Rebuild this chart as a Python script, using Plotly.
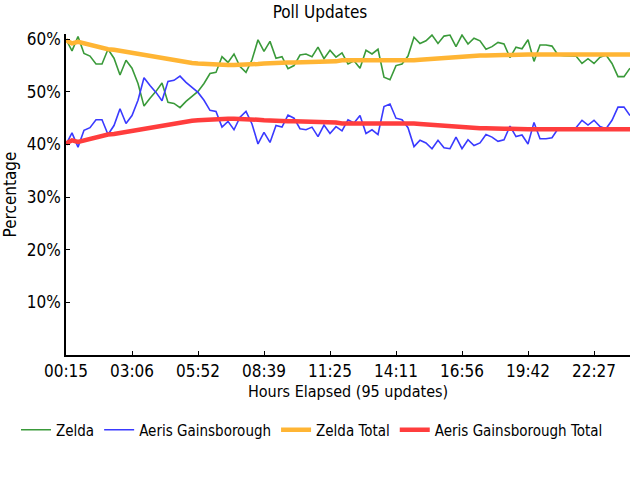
import plotly.graph_objects as go

tick_labels = ["00:15", "03:06", "05:52", "08:39", "11:25", "14:11", "16:56", "19:42", "22:27"]
tick_index = [0, 11, 22, 33, 44, 55, 66, 77, 88]
y_ticks = [10, 20, 30, 40, 50, 60]
y_tick_labels = ["10%", "20%", "30%", "40%", "50%", "60%"]
n_updates = 95
x_idx = list(range(n_updates))

zelda = [60.0, 57.8, 60.5, 57.3, 56.8, 55.3, 55.3, 58.1, 56.4, 53.2,
         56.0, 54.5, 51.6, 47.3, 48.8, 50.1, 51.7, 48.0, 47.8, 47.0,
         48.2, 49.1, 50.1, 51.6, 53.5, 53.7, 56.7, 55.6, 57.2, 54.8,
         53.7, 56.1, 59.9, 57.7, 59.6, 56.4, 56.7, 54.4, 55.0, 57.0,
         57.2, 56.7, 58.5, 56.3, 57.9, 56.6, 57.4, 55.3, 55.9, 54.5,
         57.9, 57.2, 58.1, 52.8, 52.3, 55.0, 55.3, 56.8, 60.4, 59.2,
         59.7, 60.8, 59.2, 60.6, 60.8, 58.6, 60.8, 59.1, 60.2, 59.7,
         58.1, 58.6, 59.4, 59.1, 56.5, 58.5, 58.2, 59.9, 55.8, 58.9,
         58.9, 58.7, 57.0, 56.9, 56.9, 56.8, 55.4, 56.3, 55.4, 56.6,
         57.0, 55.4, 52.9, 52.9, 54.5]

aeris = [40.0, 42.2, 39.5, 42.7, 43.2, 44.7, 44.7, 41.9, 43.6, 46.8,
         44.0, 45.5, 48.4, 52.7, 51.2, 49.9, 48.3, 52.0, 52.2, 53.0,
         51.8, 50.9, 49.9, 48.4, 46.5, 46.3, 43.3, 44.4, 42.8, 45.2,
         46.3, 43.9, 40.1, 42.3, 40.4, 43.6, 43.3, 45.6, 45.0, 43.0,
         42.8, 43.3, 41.5, 43.7, 42.1, 43.4, 42.6, 44.7, 44.1, 45.5,
         42.1, 42.8, 41.9, 47.2, 47.7, 45.0, 44.7, 43.2, 39.6, 40.8,
         40.3, 39.2, 40.8, 39.4, 39.2, 41.4, 39.2, 40.9, 39.8, 40.3,
         41.9, 41.4, 40.6, 40.9, 43.5, 41.5, 41.8, 40.1, 44.2, 41.1,
         41.1, 41.3, 43.0, 43.1, 43.1, 43.2, 44.6, 43.7, 44.6, 43.4,
         43.0, 44.6, 47.1, 47.1, 45.5]

zelda_total = [59.8, 59.2, 59.5, 59.2, 59.0, 58.6, 58.3, 58.1, 58.0, 57.8,
               57.6, 57.4, 57.2, 56.9, 56.7, 56.5, 56.3, 56.1, 55.9, 55.7,
               55.6, 55.5, 55.4, 55.3, 55.2, 55.1, 55.1, 55.1, 55.1, 55.1,
               55.1, 55.2, 55.3, 55.4, 55.5, 55.6, 55.6, 55.6, 55.6, 55.6,
               55.6, 55.6, 55.8, 55.8, 55.8, 55.8, 56.0, 56.0, 56.0, 56.0,
               56.0, 56.0, 56.0, 55.8, 55.8, 55.8, 55.9, 56.0, 56.0, 56.1,
               56.2, 56.2, 56.3, 56.4, 56.5, 56.6, 56.7, 56.8, 56.8, 56.9,
               56.9, 57.0, 57.0, 57.0, 57.0, 57.1, 57.1, 57.1, 57.1, 57.1,
               57.1, 57.1, 57.1, 57.1, 57.1, 57.1, 57.1, 57.1, 57.1, 57.1,
               57.1, 57.1, 57.1, 57.1, 57.1]

aeris_total = [40.2, 40.8, 40.5, 40.8, 41.0, 41.4, 41.7, 41.9, 42.0, 42.2,
               42.4, 42.6, 42.8, 43.1, 43.3, 43.5, 43.7, 43.9, 44.1, 44.3,
               44.4, 44.5, 44.6, 44.7, 44.8, 44.9, 44.9, 44.9, 44.9, 44.9,
               44.9, 44.8, 44.7, 44.6, 44.5, 44.4, 44.4, 44.4, 44.4, 44.4,
               44.4, 44.4, 44.2, 44.2, 44.2, 44.2, 44.0, 44.0, 44.0, 44.0,
               44.0, 44.0, 44.0, 44.2, 44.2, 44.2, 44.1, 44.0, 44.0, 43.9,
               43.8, 43.8, 43.7, 43.6, 43.5, 43.4, 43.3, 43.2, 43.2, 43.1,
               43.1, 43.0, 43.0, 43.0, 43.0, 42.9, 42.9, 42.9, 42.9, 42.9,
               42.9, 42.9, 42.9, 42.9, 42.9, 42.9, 42.9, 42.9, 42.9, 42.9,
               42.9, 42.9, 42.9, 42.9, 42.9]

FONT = "DejaVu Sans Condensed, Liberation Sans Narrow, Roboto, sans-serif"

fig = go.Figure()
fig.add_trace(go.Scatter(x=x_idx, y=zelda, mode="lines", name="Zelda",
                         line=dict(color="#3a9a3a", width=1.6)))
fig.add_trace(go.Scatter(x=x_idx, y=aeris, mode="lines", name="Aeris Gainsborough",
                         line=dict(color="#3a3aff", width=1.6)))
fig.add_trace(go.Scatter(x=x_idx, y=zelda_total, mode="lines", name="Zelda Total",
                         line=dict(color="#ffb534", width=4.5)))
fig.add_trace(go.Scatter(x=x_idx, y=aeris_total, mode="lines", name="Aeris Gainsborough Total",
                         line=dict(color="#ff3d3d", width=4.5)))

plot_l, plot_r, plot_t, plot_b = 66, 630, 34, 355
pw, ph = plot_r - plot_l, plot_b - plot_t

fig.update_layout(
    width=640, height=480,
    margin=dict(l=plot_l, r=640 - plot_r, t=plot_t, b=480 - plot_b),
    paper_bgcolor="white", plot_bgcolor="white",
    font=dict(family=FONT, size=17, color="black"),
    title=dict(text="Poll Updates", x=0.5, xref="container", xanchor="center",
               y=1 - 12 / 480, yanchor="middle", font=dict(size=17)),
    showlegend=True,
    legend=dict(orientation="h", xref="paper", yref="paper",
                x=(16 - plot_l) / pw, xanchor="left",
                y=(plot_b - 430) / ph, yanchor="middle",
                font=dict(size=15), itemwidth=30, tracegroupgap=0),
    xaxis=dict(range=[0, n_updates - 1], tickmode="array", tickvals=tick_index,
               ticktext=tick_labels, showgrid=False, zeroline=False,
               showline=True, linecolor="black", linewidth=1.5,
               ticks="inside", ticklen=4, tickcolor="black",
               title=dict(text="Hours Elapsed (95 updates)", standoff=6,
                          font=dict(size=16)),
               automargin=False),
    yaxis=dict(range=[0, 61], tickmode="array", tickvals=y_ticks,
               ticktext=y_tick_labels, showgrid=False, zeroline=False,
               showline=True, linecolor="black", linewidth=1.5,
               ticks="inside", ticklen=4, tickcolor="black",
               title=dict(text="Percentage", standoff=9, font=dict(size=17)),
               automargin=False),
)

fig.write_html("out.html")
